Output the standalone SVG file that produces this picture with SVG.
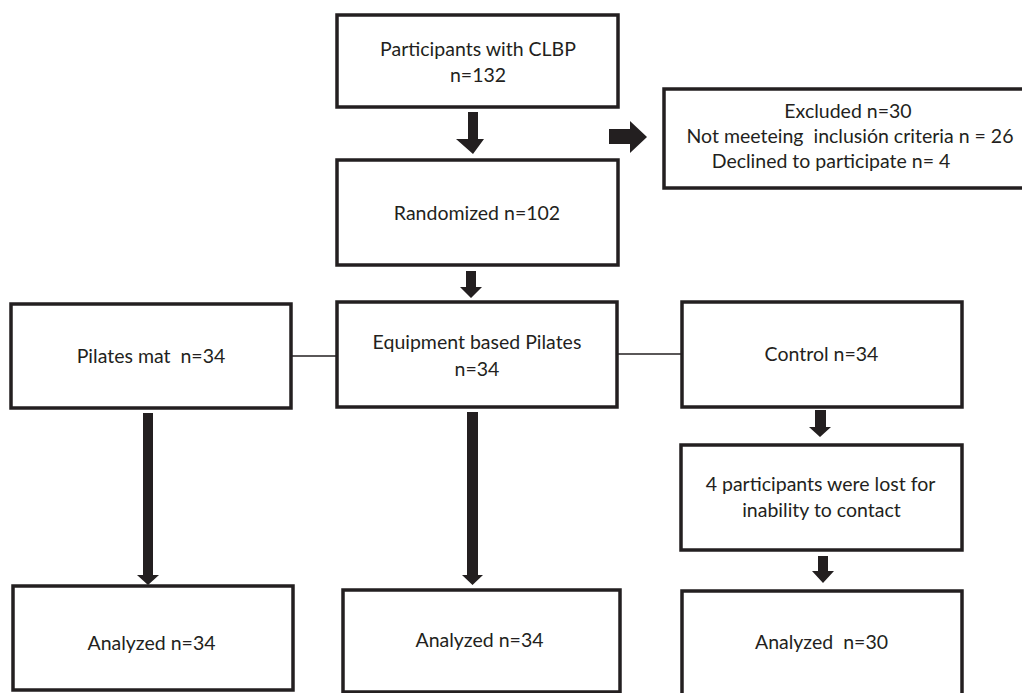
<svg xmlns="http://www.w3.org/2000/svg" width="1022" height="693" viewBox="0 0 1022 693">
<style>
.box{fill:#fff;stroke:#231f20;stroke-width:3.5}
.t{font-family:Lato,"Liberation Sans",sans-serif;font-size:19.5px;fill:#231f20;text-anchor:middle}
.arr{fill:#231f20}
.ln{stroke:#231f20;stroke-width:1.6;fill:none}
</style>
<rect width="1022" height="693" fill="#fff"/>
<g id="connectors">
<line class="ln" x1="291" y1="356" x2="337" y2="356"/>
<line class="ln" x1="617" y1="354" x2="682" y2="354"/>
<polygon class="arr" points="468,112 478,112 478,139 484,139 473,154 456,139 468,139" transform="translate(0,0)"/>
<polygon class="arr" points="609,129 630,129 630,121 647,137 630,153 630,144 609,144"/>
<polygon class="arr" points="466,271 476,271 476,287 482,287 471,298 460,287 466,287"/>
<polygon class="arr" points="143,413 153,413 153,575 159,575 148,585 137,575 143,575"/>
<polygon class="arr" points="467,412 478,412 478,575 483,575 472.5,585 462,575 467,575"/>
<polygon class="arr" points="815,410 826,410 826,427 831,427 820,437 809,427 815,427"/>
<polygon class="arr" points="818,556 828,556 828,571 834,571 823,583 812,571 818,571"/>
</g>
<g id="participants">
<rect class="box" x="337" y="15" width="281" height="92"/>
<text class="t" x="478" y="56">Participants with CLBP</text>
<text class="t" x="478" y="82">n=132</text>
</g>
<g id="excluded">
<rect class="box" x="664" y="89" width="360" height="99"/>
<text class="t" x="848" y="118">Excluded n=30</text>
<text class="t" x="850" y="143" xml:space="preserve">Not meeteing  inclusión criteria n = 26</text>
<text class="t" x="831" y="168">Declined to participate n= 4</text>
</g>
<g id="randomized">
<rect class="box" x="337" y="160" width="281" height="105"/>
<text class="t" x="477" y="220">Randomized n=102</text>
</g>
<g id="pilates-mat">
<rect class="box" x="11" y="304" width="280" height="104"/>
<text class="t" x="151" y="363" xml:space="preserve">Pilates mat  n=34</text>
</g>
<g id="equipment">
<rect class="box" x="337" y="302" width="280" height="105"/>
<text class="t" x="477" y="349">Equipment based Pilates</text>
<text class="t" x="477" y="376">n=34</text>
</g>
<g id="control">
<rect class="box" x="682" y="302" width="280" height="105"/>
<text class="t" x="821.5" y="361">Control n=34</text>
</g>
<g id="lost">
<rect class="box" x="681" y="445" width="281" height="105"/>
<text class="t" x="820.5" y="491">4 participants were lost for</text>
<text class="t" x="821.5" y="517">inability to contact</text>
</g>
<g id="analyzed-mat">
<rect class="box" x="13" y="586" width="280" height="104"/>
<text class="t" x="151.5" y="650">Analyzed n=34</text>
</g>
<g id="analyzed-equipment">
<rect class="box" x="343" y="590" width="277" height="102"/>
<text class="t" x="479.5" y="647">Analyzed n=34</text>
</g>
<g id="analyzed-control">
<rect class="box" x="682" y="591" width="280" height="104"/>
<text class="t" x="821.5" y="649" xml:space="preserve">Analyzed  n=30</text>
</g>
</svg>
